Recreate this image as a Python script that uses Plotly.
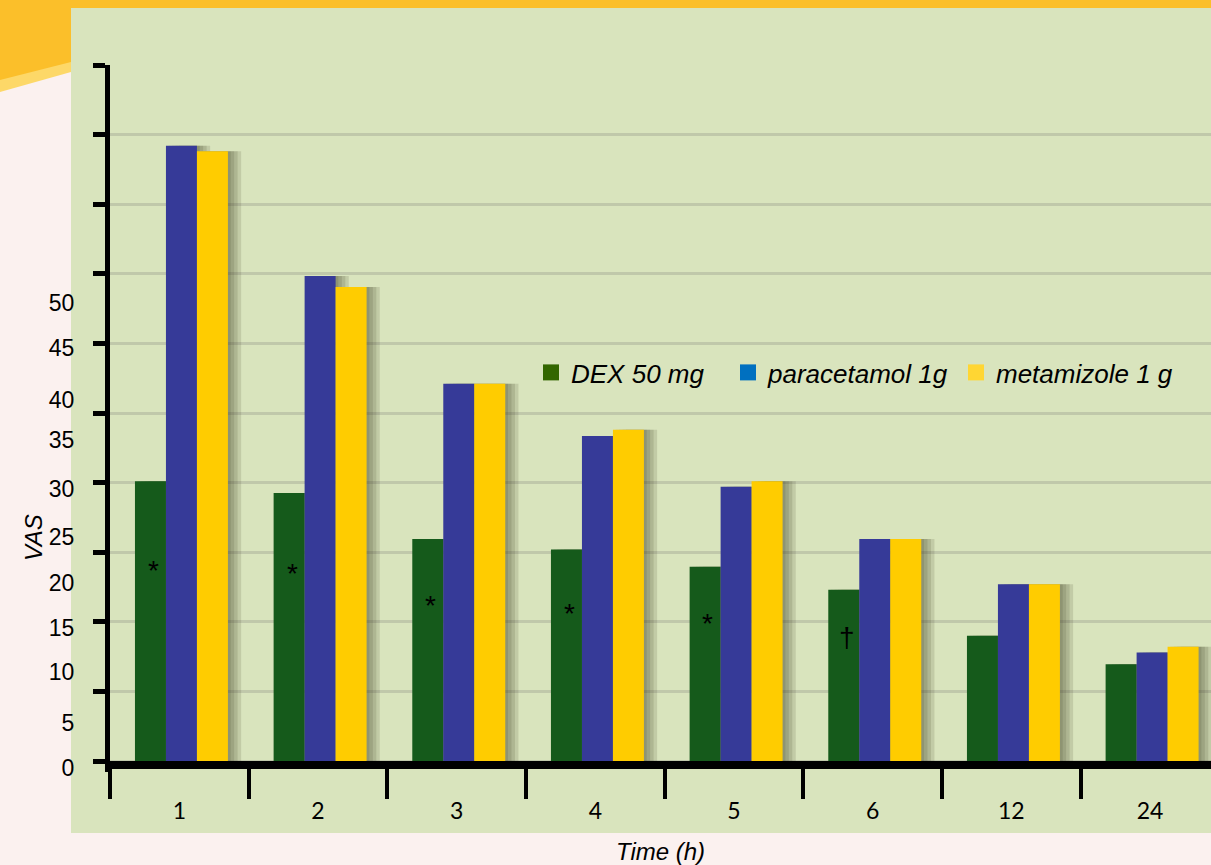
import plotly.graph_objects as go

# ---------------- data ----------------
time_labels = ["1", "2", "3", "4", "5", "6", "12", "24"]
dex = [40.2, 38.5, 31.9, 30.4, 27.9, 24.6, 18.0, 13.9]
paracetamol = [88.4, 69.7, 54.2, 46.7, 39.4, 31.9, 25.4, 15.6]
metamizole = [87.6, 68.1, 54.2, 47.6, 40.2, 31.9, 25.4, 16.4]

sig_marks = ["*", "*", "*", "*", "*", "\u2020", "", ""]
sig_y = [27.4, 27.0, 22.4, 21.2, 19.8, 17.8, None, None]

vas_labels = ["0", "5", "10", "15", "20", "25", "30", "35", "40", "45", "50"]
vas_label_pos = [-1.0, 5.46, 12.8, 19.1, 25.6, 32.2, 39.1, 46.1, 51.9, 59.3, 65.8]
grid_vals = [0, 10, 20, 30, 40, 50, 60, 70, 80, 90, 100]

series_names = ["DEX 50 mg", "paracetamol 1g", "metamizole 1 g"]
bar_colors = ["#155a1b", "#363a98", "#ffcc00"]
legend_colors = ["#336600", "#0070c0", "#ffd633"]
legend_widths = [152, 183, None]

# ---------------- layout geometry ----------------
W, H = 1211, 865
ML, MR, MT, MB = 110, 0, 65, 93
PW, PH = W - ML - MR, H - MT - MB
BAR_W = 0.2235
BAR_OFFSETS = [-0.32, -0.32 + BAR_W, -0.32 + 2 * BAR_W]
SHADOW_SHIFTS = [0.02, 0.045, 0.07, 0.095]


def px_x(p):
    return (p - ML) / PW


def px_y(p):
    return (H - MB - p) / PH


FONT = "Liberation Sans, Arial, sans-serif"
series_vals = [dex, paracetamol, metamizole]

fig = go.Figure()
# soft drop shadows (drawn first, underneath the bars)
for sh in SHADOW_SHIFTS:
    for vals, off in zip(series_vals, BAR_OFFSETS):
        fig.add_trace(go.Bar(x=time_labels, y=vals, width=BAR_W, offset=off + sh,
                             marker_color="rgba(55,60,30,0.14)", marker_line_width=0,
                             showlegend=False, hoverinfo="skip"))

for name, vals, col, off in zip(series_names, series_vals, bar_colors, BAR_OFFSETS):
    fig.add_trace(go.Bar(x=time_labels, y=vals, name=name, marker_color=col, width=BAR_W,
                         offset=off, marker_line_width=0, showlegend=False))

for name, col, lw in zip(series_names, legend_colors, legend_widths):
    fig.add_trace(go.Scatter(x=[None], y=[None], mode="markers", name="<i>" + name + "</i>",
                             marker=dict(symbol="square", size=18, color=col), legendwidth=lw))

annotations = []
for i, (mark, yv) in enumerate(zip(sig_marks, sig_y)):
    if mark:
        annotations.append(dict(x=i, y=yv, xref="x", yref="y", text=mark, showarrow=False,
                                xshift=-26, xanchor="center", yanchor="middle",
                                font=dict(size=28, color="black", family=FONT)))
annotations.append(dict(x=px_x(33), y=px_y(538), xref="paper", yref="paper", text="<i>VAS</i>",
                        xanchor="center", yanchor="middle",
                        textangle=-90, showarrow=False, font=dict(size=24, color="black", family=FONT)))

shapes = [
    # green panel
    dict(type="rect", xref="paper", yref="paper", x0=px_x(71), x1=px_x(W), y0=px_y(833), y1=px_y(8),
         fillcolor="#d9e4bd", line_width=0, layer="below"),
    # orange top band
    dict(type="rect", xref="paper", yref="paper", x0=px_x(0), x1=px_x(W), y0=px_y(8), y1=px_y(0),
         fillcolor="#fbbf2a", line_width=0, layer="below"),
    # light yellow swoosh on the left
    dict(type="path", xref="paper", yref="paper", layer="below", line_width=0, fillcolor="#fdd868",
         path=f"M {px_x(0)} {px_y(0)} L {px_x(71)} {px_y(0)} L {px_x(71)} {px_y(72)} "
              f"L {px_x(0)} {px_y(92)} Z"),
    dict(type="path", xref="paper", yref="paper", layer="below", line_width=0, fillcolor="#fbbf2a",
         path=f"M {px_x(0)} {px_y(0)} L {px_x(71)} {px_y(0)} L {px_x(71)} {px_y(62)} "
              f"L {px_x(0)} {px_y(80)} Z"),
]

fig.update_layout(
    width=W, height=H,
    margin=dict(l=ML, r=MR, t=MT, b=MB, pad=0),
    paper_bgcolor="#fbf1ef",
    plot_bgcolor="rgba(0,0,0,0)",
    barmode="overlay",
    font=dict(family=FONT, color="black"),
    showlegend=True,
    legend=dict(orientation="h", x=px_x(531), y=px_y(349), xanchor="left", yanchor="top",
                bgcolor="rgba(0,0,0,0)", font=dict(size=26, family=FONT, color="black"),
                itemclick=False),
    annotations=annotations,
    shapes=shapes,
)

fig.update_xaxes(
    type="category", range=[-0.5, 7.44],
    anchor="free", position=px_y(765),
    showline=True, linecolor="black", linewidth=8,
    ticks="outside", tickson="boundaries", ticklen=30, tickwidth=4, tickcolor="black",
    showgrid=False, zeroline=False,
    ticklabelstandoff=22,
    tickfont=dict(family="Lato, Calibri, sans-serif", size=23, color="black"),
    title=dict(text="<i>Time (h)</i>", font=dict(size=24, family=FONT, color="black"), standoff=22),
)

fig.update_yaxes(
    range=[-1.58, 100],
    tickmode="array", tickvals=vas_label_pos, ticktext=vas_labels, ticks="",
    showgrid=False, zeroline=False,
    showline=True, linecolor="black", linewidth=5,
    ticklabelstandoff=26,
    tickfont=dict(size=23, family=FONT, color="black"),
    minor=dict(tickmode="array", tickvals=grid_vals, ticks="outside", ticklen=12, tickwidth=5,
               tickcolor="black", showgrid=True, gridcolor="#c0c8aa", gridwidth=3),
)

fig.write_html("out.html", config={"displayModeBar": False},
               post_script="document.body.style.margin='0px';")
